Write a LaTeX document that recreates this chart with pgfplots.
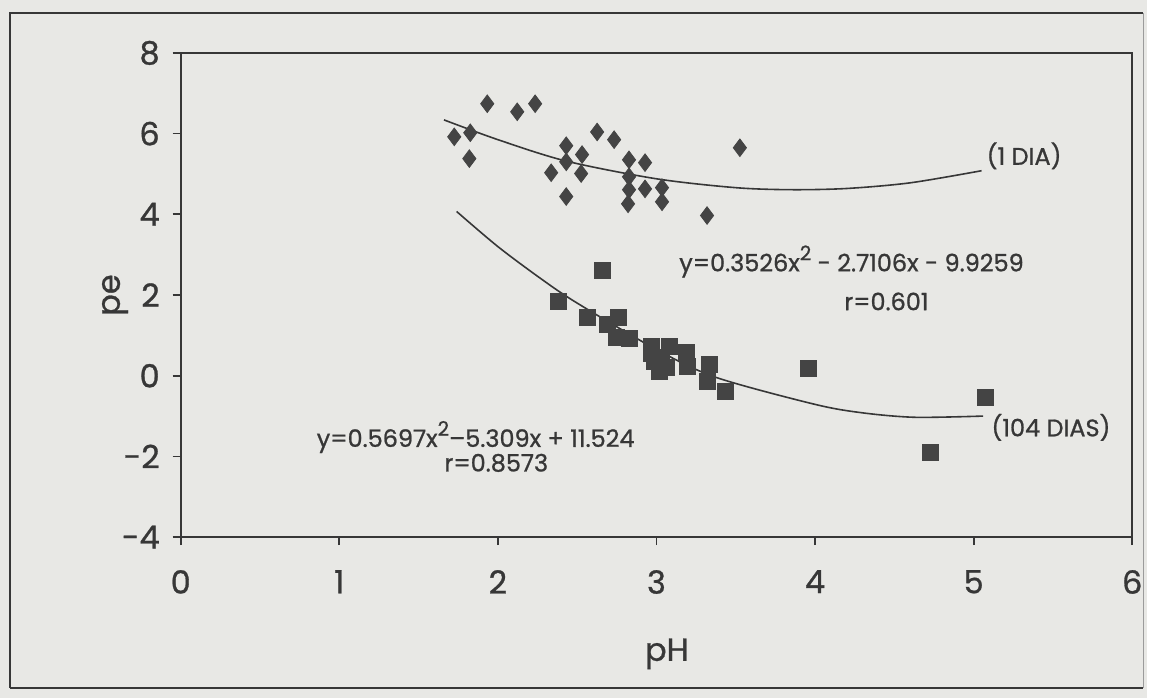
\documentclass[border=0pt]{standalone}
\usepackage{pgfplots}
\pgfplotsset{compat=1.18}
\usepackage{fontspec}
\setmainfont{Poppins}[BoldFont=Poppins,BoldFeatures={FakeBold=0.9}]
\definecolor{paper}{RGB}{232,232,229}
\definecolor{ink}{RGB}{55,55,55}
\definecolor{dot}{RGB}{68,68,68}

\begin{document}
\begin{tikzpicture}
% page background and the scanned frame
\fill[paper] (-90.5pt,-80.5pt) rectangle (484pt,269pt);
\draw[ink,line width=1pt] (-85.5pt,-75.5pt) -- (-85.5pt,262.5pt) -- (482pt,262.5pt);
\draw[ink,line width=1.1pt] (-85.5pt,-75.5pt) -- (482pt,-75.5pt);
\draw[ink!50,line width=0.6pt] (482pt,-75.5pt) -- (482pt,262.5pt);
\begin{axis}[
	at={(0,0)},anchor=south west,
	width=476.5pt,height=242.5pt,scale only axis,
	xmin=0,xmax=6,ymin=-4,ymax=8,
	xtick={0,1,2,3,4,5,6},ytick={-4,-2,0,2,4,6,8},
	axis line style={ink,line width=1pt},
	tick style={ink,line width=0.9pt},
	tick align=outside,
	xtick pos=bottom,ytick pos=left,
	major tick length=4pt,
	tick label style={font=\fontsize{16}{18}\selectfont\bfseries,text=ink},
	/pgf/number format/assume math mode=true,
	xticklabel style={yshift=-9pt},
	yticklabel style={xshift=-3pt},
	label style={font=\fontsize{16}{18}\selectfont\bfseries,text=ink},
	xlabel={pH},
	xlabel style={at={(axis description cs:0.511,-0.241)},anchor=center},
	ylabel={pe},
	ylabel style={at={(axis description cs:-0.069,0.5)},anchor=center},
	clip=false]
% 1 DIA
\addplot[only marks,mark=diamond*,mark size=4.4pt,dot,mark options={draw=dot,fill=dot}] coordinates {
	(1.725,5.92) (1.826,6.02) (1.82,5.38) (1.933,6.74) (2.122,6.54) (2.235,6.74)
	(2.336,5.03) (2.431,5.70) (2.431,5.30) (2.431,4.44) (2.531,5.48) (2.525,5.01)
	(2.626,6.04) (2.733,5.85) (2.827,5.35) (2.827,4.93) (2.827,4.61) (2.821,4.26)
	(2.928,5.28) (2.928,4.63) (3.035,4.66) (3.035,4.31) (3.526,5.65) (3.319,3.97)};
\addplot[ink,line width=0.8pt,smooth] coordinates {
	(1.66,6.34) (2.0,5.85) (2.43,5.32) (3.0,4.88) (3.5,4.66) (3.85,4.61)
	(4.2,4.64) (4.6,4.78) (5.05,5.08)};
% 104 DIAS
\addplot[only marks,mark=square*,mark size=4pt,dot,mark options={draw=dot,fill=dot,rounded corners=1.2pt}] coordinates {
	(2.657,2.61) (2.380,1.84) (2.563,1.44) (2.758,1.44) (2.689,1.27) (2.746,0.95)
	(2.827,0.92) (2.966,0.73) (3.079,0.73) (2.985,0.35) (3.060,0.21) (3.016,0.11)
	(2.97,0.55) (3.03,0.45) (3.186,0.58) (3.193,0.23) (3.331,0.28) (3.319,-0.14)
	(3.432,-0.39) (3.961,0.18) (5.076,-0.54) (4.729,-1.90)};
\addplot[ink,line width=0.8pt,smooth] coordinates {
	(1.74,4.07) (2.0,3.2) (2.28,2.38) (2.5,1.8) (3.0,0.65) (3.375,-0.04)
	(4.0,-0.71) (4.3,-0.92) (4.63,-1.03) (5.06,-1.0)};
% annotations
\begin{scope}[every node/.style={font=\fontsize{12}{14}\selectfont\bfseries,text=ink,inner sep=0pt}]
\node[anchor=west] at (axis cs:5.08,5.45) {(1 DIA)};
\node at (axis cs:4.23,2.83) {y=0.3526x\raisebox{0.85ex}{\fontsize{10}{10}\selectfont 2} - 2.7106x - 9.9259};
\node at (axis cs:4.45,1.84) {r=0.601};
\node[anchor=west] at (axis cs:5.11,-1.28) {(104 DIAS)};
\node at (axis cs:1.86,-1.52) {y=0.5697x\raisebox{0.85ex}{\fontsize{10}{10}\selectfont 2}–5.309x + 11.524};
\node at (axis cs:1.99,-2.16) {r=0.8573};
\end{scope}
\end{axis}
\end{tikzpicture}
\end{document}
